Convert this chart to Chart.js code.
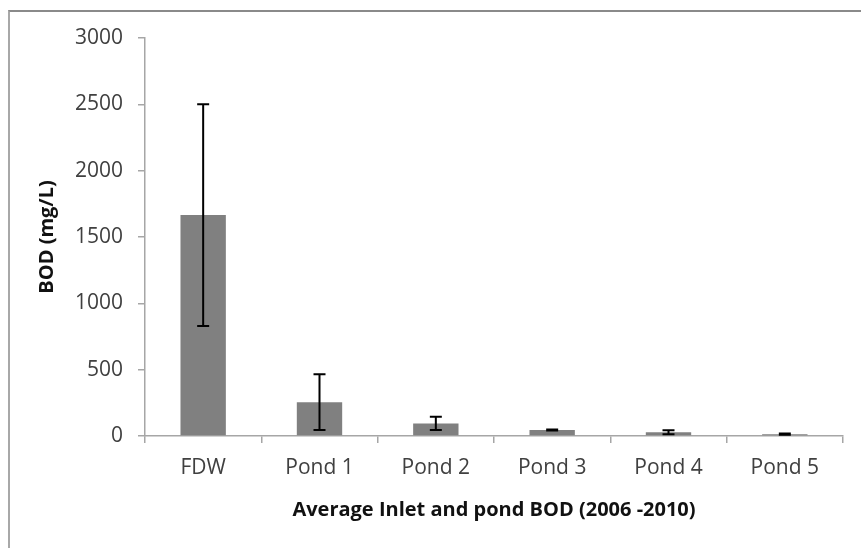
<!DOCTYPE html>
<html><head><meta charset="utf-8">
<script src="https://cdn.jsdelivr.net/npm/chart.js@4/dist/chart.umd.min.js"></script>
<style>
html,body{margin:0;padding:0;background:#fff;}
#wrap{position:relative;width:861px;height:548px;}
#frame{position:absolute;left:8px;top:10px;right:0;bottom:0;border-top:2px solid #8a8a8a;border-left:2px solid #a8a8a8;pointer-events:none;}
canvas{position:absolute;left:0;top:0;}
</style></head>
<body><div id="wrap"><div id="frame"></div><canvas id="c" width="861" height="548"></canvas></div>
<script>
/* BOD per site, mean and error (mg/L) */
const sites=['FDW','Pond 1','Pond 2','Pond 3','Pond 4','Pond 5'];
const bod=[1665,255,95,45,28,14];
const bodErr=[836,210,50,4,15,5];
const yTicks=[0,500,1000,1500,2000,2500,3000];

const fam="'Open Sans',sans-serif";
const axisc='#a6a6a6';

const errBars={id:'errBars',afterDatasetsDraw(chart){
  const ctx=chart.ctx,meta=chart.getDatasetMeta(0),y=chart.scales.y;
  ctx.save();ctx.strokeStyle='#000';ctx.lineWidth=2;
  meta.data.forEach((b,i)=>{
    const hi=y.getPixelForValue(bod[i]+bodErr[i]),lo=y.getPixelForValue(bod[i]-bodErr[i]);
    ctx.beginPath();
    ctx.moveTo(b.x,hi);ctx.lineTo(b.x,lo);
    ctx.moveTo(b.x-6,hi);ctx.lineTo(b.x+6,hi);
    ctx.moveTo(b.x-6,lo);ctx.lineTo(b.x+6,lo);
    ctx.stroke();
  });
  ctx.restore();
}};

new Chart(document.getElementById('c'),{
  type:'bar',
  data:{labels:sites,datasets:[{data:bod,backgroundColor:'#808080',barPercentage:0.39,categoryPercentage:1}]},
  options:{responsive:false,animation:false,
    layout:{padding:{left:0,right:18,top:38,bottom:0}},
    plugins:{legend:{display:false},tooltip:{enabled:false}},
    scales:{
      x:{grid:{display:true,drawOnChartArea:false,drawTicks:true,tickLength:7,color:axisc,lineWidth:1.5},
        border:{color:axisc,width:1.5},
        ticks:{color:'#404040',padding:12,font:{family:fam,size:21}},
        title:{display:true,text:'Average Inlet and pond BOD (2006 -2010)',color:'#111',font:{family:fam,size:20,weight:'bold'},padding:{top:0,bottom:26}},
        afterFit(s){s.height=112;}},
      y:{min:0,max:3000,
        afterBuildTicks(s){s.ticks=yTicks.map(v=>({value:v}));},
        grid:{display:true,drawOnChartArea:false,drawTicks:true,tickLength:7,color:axisc,lineWidth:1.5},
        border:{color:axisc,width:1.5},
        ticks:{color:'#404040',padding:15,font:{family:fam,size:21},callback:v=>String(v)},
        title:{display:true,text:'BOD (mg/L)',color:'#111',font:{family:fam,size:20,weight:'bold'},padding:{top:35,bottom:0}},
        afterFit(s){s.width=145;}}
    }},
  plugins:[errBars]
});
</script></body></html>
